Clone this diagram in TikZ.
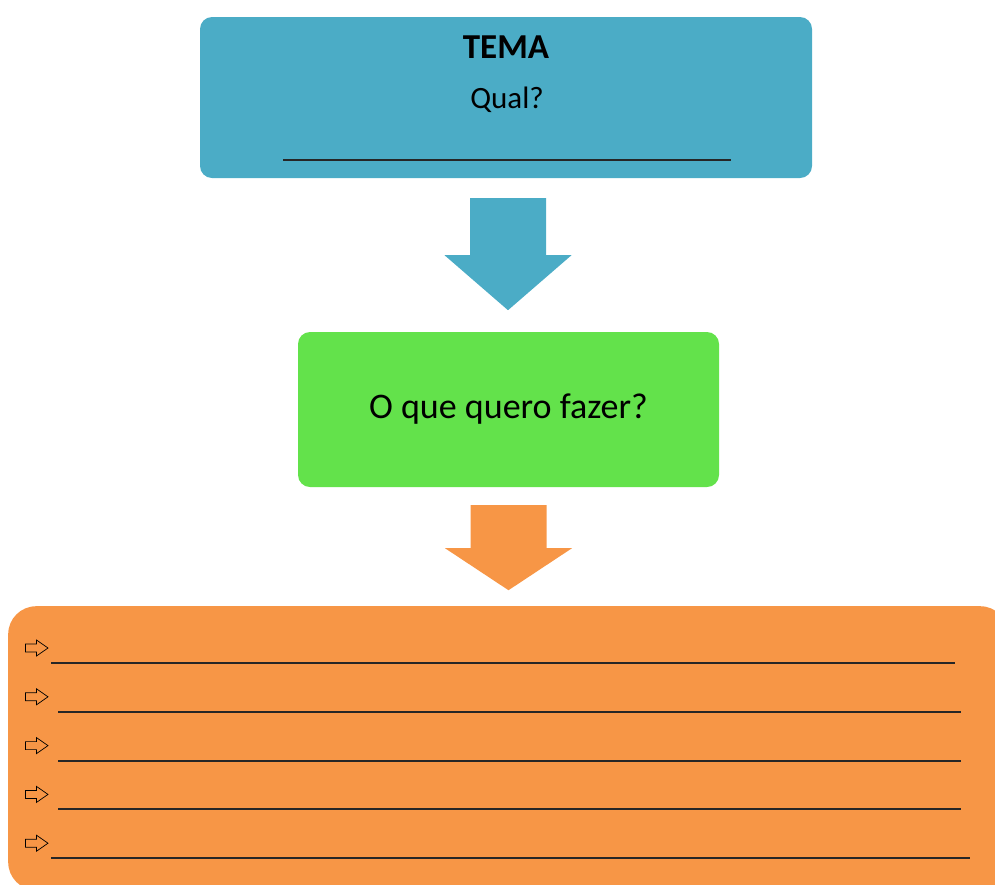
\documentclass[tikz,border=0pt]{standalone}
\usepackage{fontspec}
\setmainfont{Carlito}
\usetikzlibrary{positioning, calc}
\definecolor{temablue}{HTML}{4BACC6}
\definecolor{fazgreen}{HTML}{63E24B}
\definecolor{listorange}{HTML}{F79646}
\tikzset{
    caixa/.style={draw=none, fill=#1, rounded corners=12pt, inner sep=0pt},
    caixa/.default={temablue}
}
\tikzset{
    linhaU/.style={line width=2pt, black!85},
    marcaO/.style={draw=black, line width=0.7pt, fill=listorange, line join=miter}
}
\newcommand{\setaBloco}[4]{%
    \fill[#4, shift={(#1)}] (-38,0) -- (38,0) -- (38,#2) -- (63.5,#2) -- (0,#2+#3) -- (-63.5,#2) -- (-38,#2) -- cycle;
}

\begin{document}
\begin{tikzpicture}[x=1pt, y=-1pt]
    \clip (0,0) rectangle (995,884);
    % tema
    \node[caixa=temablue, minimum width=612pt, minimum height=161pt] (tema) at (506,97.5) {};
    \node[font=\fontsize{35}{40}\selectfont\bfseries] (temaT) at (506,47) {TEMA};
    \node[font=\fontsize{31}{36}\selectfont] (qual) at (507,100) {Qual?};
    \coordinate (qualA) at (283,160);
    \coordinate (qualB) at (731,160);
    \draw[linhaU] (qualA) -- (qualB);
    % o que fazer
    \node[caixa=fazgreen, minimum width=421pt, minimum height=155pt, font=\fontsize{36}{40}\selectfont] (fazer) at (508.5,409.5) {O que quero fazer?};
    \coordinate (s1) at ($(tema.south)+(2,20)$);
    \setaBloco{s1}{57}{55}{temablue}
    % lista
    \node[caixa=listorange, rounded corners=28pt, minimum width=1000pt, minimum height=284pt, anchor=north west] (lista) at (8,606) {};
    \coordinate (s2) at ($(fazer.south)+(0,18)$);
    \setaBloco{s2}{43}{42}{listorange}
    \foreach \i/\xa/\xb in {0/51/955, 1/58/961, 2/58/961, 3/58/961, 4/51/970}{
        \coordinate (m\i) at (25.5,648+48.8*\i);
        \coordinate (la\i) at (\xa,663+48.8*\i);
        \coordinate (lb\i) at (\xb,663+48.8*\i);
        \draw[marcaO, shift={(m\i)}] (0,-4) -- (11,-4) -- (11,-8) -- (22.5,0) -- (11,8) -- (11,4) -- (0,4) -- cycle;
        \draw[linhaU] (la\i) -- (lb\i);
    }
\end{tikzpicture}
\end{document}
